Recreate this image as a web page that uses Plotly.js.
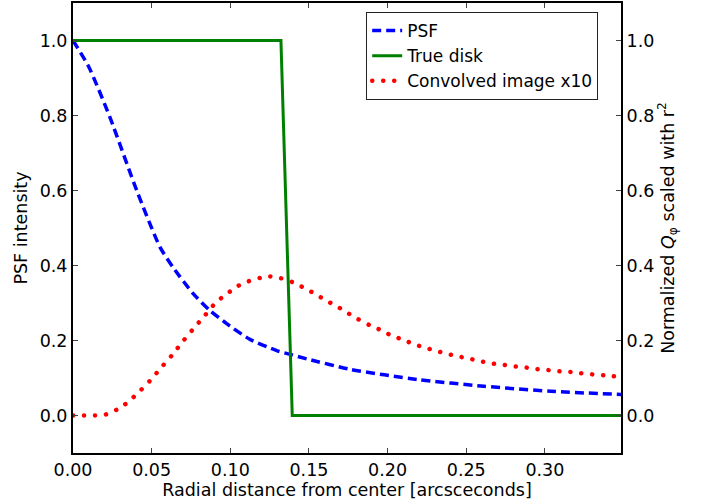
<!DOCTYPE html>
<html>
<head>
<meta charset="utf-8">
<script src="https://cdn.plot.ly/plotly-3.0.1.min.js"></script>
<style>html,body{margin:0;padding:0;background:#fff;}#chart{width:702px;height:504px;}</style>
</head>
<body>
<div id="chart"></div>
<script>
// PSF (blue dashed)
const psfX = [0.000, 0.010, 0.0235, 0.0405, 0.0553, 0.0636, 0.0764, 0.087, 0.0977, 0.1125, 0.1295, 0.138, 0.1486, 0.1763, 0.219, 0.2613, 0.304, 0.3488];
const psfY = [1.000, 0.930, 0.795, 0.600, 0.449, 0.395, 0.325, 0.280, 0.245, 0.203, 0.173, 0.163, 0.151, 0.123, 0.096, 0.078, 0.0645, 0.056];
// True disk (green solid)
const diskX = [0.000, 0.1322, 0.1394, 0.3488];
const diskY = [1.000, 1.000, 0.000, 0.000];
// Convolved image x10 (red dotted)
const convX = [0.000, 0.007, 0.014, 0.021, 0.028, 0.0348, 0.042, 0.049, 0.0557, 0.063, 0.0697, 0.0765, 0.0835, 0.0905, 0.0977, 0.1047, 0.1117, 0.1189, 0.1252, 0.1322, 0.1394, 0.1466, 0.1536, 0.1608, 0.1678, 0.1748, 0.1812, 0.1885, 0.1955, 0.2025, 0.2098, 0.2168, 0.2238, 0.231, 0.2374, 0.2445, 0.2515, 0.2587, 0.2657, 0.2727, 0.28, 0.2866, 0.2934, 0.3006, 0.3077, 0.3147, 0.322, 0.329, 0.336, 0.343, 0.349];
const convY = [0.000, 0.000, 0.000, 0.003, 0.016, 0.035, 0.063, 0.093, 0.126, 0.161, 0.197, 0.231, 0.265, 0.300, 0.324, 0.345, 0.358, 0.367, 0.371, 0.366, 0.356, 0.341, 0.325, 0.307, 0.291, 0.273, 0.257, 0.241, 0.228, 0.213, 0.202, 0.190, 0.181, 0.172, 0.165, 0.158, 0.152, 0.145, 0.139, 0.136, 0.131, 0.129, 0.124, 0.122, 0.118, 0.117, 0.113, 0.110, 0.108, 0.105, 0.103];
const yTicks = [0.0, 0.2, 0.4, 0.6, 0.8, 1.0];
const xTicks = [0.00, 0.05, 0.10, 0.15, 0.20, 0.25, 0.30];

const font = {family: 'DejaVu Sans', size: 17.5, color: '#000'};
const traces = [
  {x: psfX, y: psfY, name: 'PSF', mode: 'lines', line: {color: '#0000ff', width: 3.5, dash: '9px,5px', shape: 'spline', smoothing: 0.6}},
  {x: diskX, y: diskY, name: 'True disk', mode: 'lines', line: {color: '#008000', width: 3}},
  {x: convX, y: convY, name: 'Convolved image x10', mode: 'lines', yaxis: 'y2', line: {color: '#ff0000', width: 4.5, dash: '0.1px,10.9px', shape: 'spline', smoothing: 0.6}}
];
const layout = {
  width: 702, height: 504,
  margin: {l: 73, r: 81, t: 3, b: 51},
  paper_bgcolor: '#fff', plot_bgcolor: '#fff',
  font: font,
  showlegend: true,
  legend: {x: 0.535, y: 0.98, xanchor: 'left', yanchor: 'top', bordercolor: '#222', borderwidth: 1, bgcolor: '#fff', tracegroupgap: 0, font: {family: 'DejaVu Sans', size: 17}},
  xaxis: {
    range: [0, 0.3484], tickvals: xTicks, tickformat: '.2f',
    ticks: 'inside', ticklen: 5, tickcolor: '#444', mirror: 'ticks',
    showline: true, linecolor: '#000', linewidth: 2, showgrid: false, zeroline: false,
    title: {text: 'Radial distance from center [arcsceconds]', font: font, standoff: 3}
  },
  yaxis: {
    range: [-0.1, 1.1], tickvals: yTicks, tickformat: '.1f',
    ticks: 'inside', ticklen: 5, tickcolor: '#444',
    showline: true, linecolor: '#000', linewidth: 2, showgrid: false, zeroline: false,
    title: {text: 'PSF intensity', font: font, standoff: 8}
  },
  yaxis2: {
    overlaying: 'y', side: 'right',
    range: [-0.1, 1.1], tickvals: yTicks, tickformat: '.1f',
    ticks: 'inside', ticklen: 5, tickcolor: '#444',
    showline: true, linecolor: '#000', linewidth: 2, showgrid: false, zeroline: false,
    title: {text: 'Normalized <i>Q</i><sub>φ</sub> scaled with r<sup>2</sup>', font: font, standoff: 8}
  }
};
Plotly.newPlot('chart', traces, layout, {staticPlot: true, displayModeBar: false}).then(function (gd) {
  // round caps so the red dotted line is drawn as round dots, like the reference
  gd.querySelectorAll('.scatterlayer .trace, .legend .traces').forEach(function (g) {
    g.querySelectorAll('path.js-line').forEach(function (p) {
      if ((p.style.strokeDasharray || '').indexOf('0.1') === 0) p.style.strokeLinecap = 'round';
    });
  });
});
</script>
</body>
</html>
